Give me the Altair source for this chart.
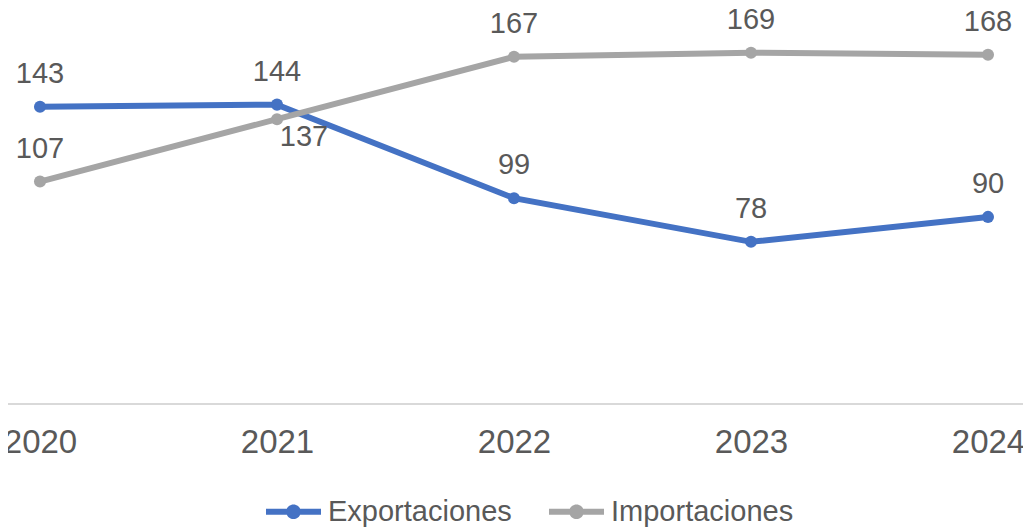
import altair as alt
import pandas as pd

years = ["2020", "2021", "2022", "2023", "2024"]
exportaciones = [143, 144, 99, 78, 90]
importaciones = [107, 137, 167, 169, 168]
series_names = ["Exportaciones", "Importaciones"]
series_colors = ["#4472C4", "#A5A5A5"]

rows = []
for y, v in zip(years, exportaciones):
    rows.append({"year": y, "value": v, "series": "Exportaciones"})
for y, v in zip(years, importaciones):
    rows.append({"year": y, "value": v, "series": "Importaciones"})
df = pd.DataFrame(rows)

FONT = "Liberation Sans"
TXT = "#595959"

legend_path = ("M-3.93,-0.42L3.93,-0.42L3.93,0.42L-3.93,0.42Z "
               "M-1.05,0A1.05,1.05 0 1,1 1.05,0A1.05,1.05 0 1,1 -1.05,0Z")

x_enc = alt.X(
    "year:O",
    sort=years,
    scale=alt.Scale(type="point", range=[30, 978], padding=0),
    axis=alt.Axis(
        title=None,
        labelAngle=0,
        labelFont=FONT,
        labelFontSize=33,
        labelColor=TXT,
        labelPadding=22,
        ticks=False,
        tickSize=0,
        grid=False,
        domain=False,
    ),
)
y_enc = alt.Y("value:Q", scale=alt.Scale(domain=[0, 190], nice=False, zero=True), axis=None)
color_scale = alt.Scale(domain=series_names, range=series_colors)

base = alt.Chart(df)

baseline = alt.Chart(pd.DataFrame({"v": [0]})).mark_rule(
    color="#D9D9D9", strokeWidth=2
).encode(y=alt.Y("v:Q", scale=alt.Scale(domain=[0, 190], nice=False, zero=True), axis=None),
         x=alt.value(-2), x2=alt.value(1013))

lines = base.mark_line(strokeWidth=6).encode(
    x=x_enc,
    y=y_enc,
    color=alt.Color("series:N", scale=color_scale, legend=None),
    detail="series:N",
)

points = base.mark_point(filled=True, size=145, opacity=1).encode(
    x=x_enc,
    y=y_enc,
    color=alt.Color(
        "series:N",
        scale=color_scale,
        legend=alt.Legend(
            title=None,
            orient="none",
            direction="horizontal",
            legendX=269,
            legendY=488,
            symbolType=legend_path,
            symbolSize=196,
            symbolOpacity=1,
            symbolStrokeWidth=0,
            labelFont=FONT,
            labelFontSize=29,
            labelColor=TXT,
            labelLimit=400,
            labelOffset=20,
            columnPadding=36,
            padding=0,
        ),
    ),
)

is_special = "datum.series == 'Importaciones' && datum.year == '2021'"

labels = base.mark_text(
    font=FONT, fontSize=29, color=TXT, align="center", baseline="alphabetic", dy=-24
).encode(x=x_enc, y=y_enc, text="value:Q").transform_filter("!(" + is_special + ")")

label_special = base.mark_text(
    font=FONT, fontSize=29, color=TXT, align="center", baseline="alphabetic", dx=27, dy=27
).encode(x=x_enc, y=y_enc, text="value:Q").transform_filter(is_special)

chart = (
    alt.layer(baseline, lines, points, labels, label_special)
    .resolve_legend(color="independent")
    .properties(
        width=1013,
        height=395,
        autosize=alt.AutoSizeParams(type="none"),
        padding={"left": 2, "top": 1, "right": 0, "bottom": 125},
    )
    .configure_view(stroke=None)
)

chart.save("out.html", embed_options={"renderer": "svg", "actions": False})
